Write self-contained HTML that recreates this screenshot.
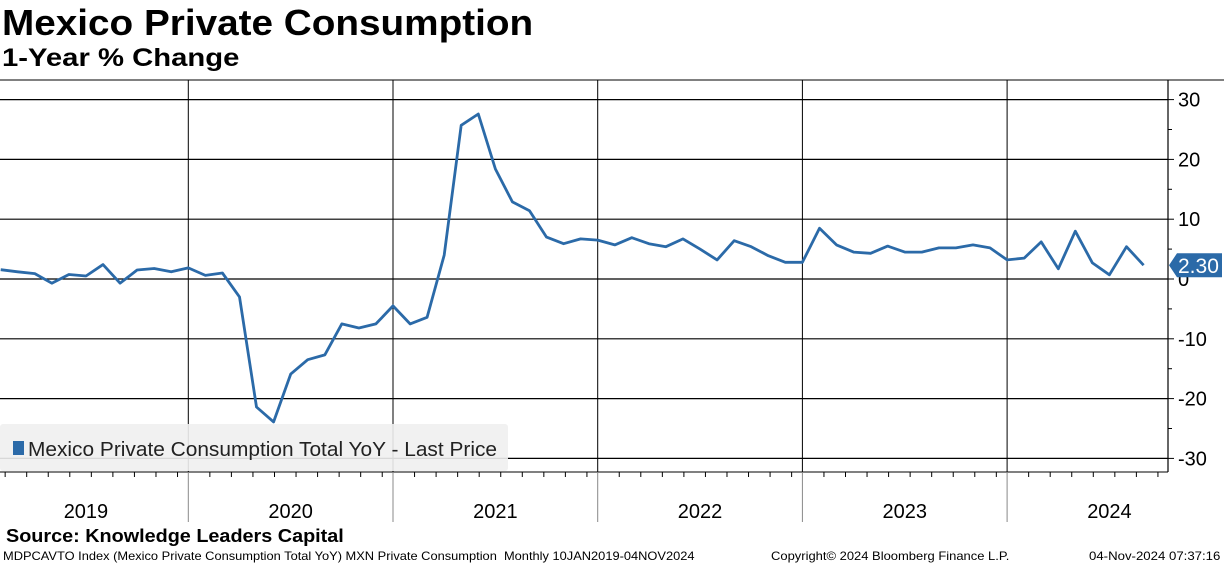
<!DOCTYPE html>
<html><head><meta charset="utf-8"><style>
body{margin:0;width:1224px;height:566px;background:#fff;font-family:"Liberation Sans",sans-serif;overflow:hidden;position:relative}
.t{position:absolute;white-space:nowrap}
</style></head><body>
<div class="t" style="left:2px;top:2px;font-size:36px;font-weight:bold;transform:scaleX(1.075);transform-origin:left">Mexico Private Consumption</div>
<div class="t" style="left:2px;top:44px;font-size:25px;font-weight:bold;transform:scaleX(1.17);transform-origin:left">1-Year % Change</div>
<svg id="c" width="1224" height="566" style="position:absolute;left:0;top:0"></svg>
<div class="t" style="left:6px;top:526px;font-size:18px;font-weight:bold;transform:scaleX(1.1);transform-origin:left">Source: Knowledge Leaders Capital</div>
<div class="t" style="left:3px;top:549px;font-size:12px;transform:scaleX(1.07);transform-origin:left">MDPCAVTO Index (Mexico Private Consumption Total YoY) MXN Private Consumption&nbsp; Monthly 10JAN2019-04NOV2024</div>
<div class="t" style="left:771px;top:549px;font-size:12px;transform:scaleX(1.08);transform-origin:left">Copyright© 2024 Bloomberg Finance L.P.</div>
<div class="t" style="left:1089px;top:549px;font-size:12px;transform:scaleX(1.1);transform-origin:left">04-Nov-2024 07:37:16</div>
<script>
const years=["2019","2020","2021","2022","2023","2024"];
const yTicks=[30,20,10,0,-10,-20,-30];
// monthly values starting Feb 2019
const values=[1.56,1.2,0.9,-0.7,0.75,0.5,2.4,-0.7,1.5,1.75,1.2,1.85,0.6,1.0,-3.0,-21.4,-23.9,-15.9,-13.5,-12.7,-7.5,-8.2,-7.5,-4.5,-7.5,-6.4,4.0,25.7,27.6,18.4,12.9,11.4,7.0,5.9,6.7,6.5,5.7,6.9,5.9,5.4,6.7,5.0,3.2,6.4,5.4,3.9,2.8,2.8,8.5,5.7,4.5,4.3,5.5,4.5,4.5,5.2,5.2,5.7,5.2,3.2,3.5,6.2,1.7,8.0,2.7,0.7,5.4,2.3];
const lastLabel="2.30";
const svg=document.getElementById('c');const NS="http://www.w3.org/2000/svg";
function mk(t,a){const e=document.createElementNS(NS,t);for(const k in a)e.setAttribute(k,a[k]);svg.appendChild(e);return e;}
const yr=204.7, x2020=188.3;
function xm(i){return x2020-yr+(i+1)*yr/12;}
function ys(v){return 279-v*5.98;}
const plotTop=80,plotBot=472,ax=1168;
yTicks.forEach(v=>{const l=mk('line',{x1:0,x2:ax,y1:ys(v),y2:ys(v),stroke:'#000','stroke-width':1.2});


const tk=mk('line',{x1:ax,x2:ax+6,y1:ys(v),y2:ys(v),stroke:'#000'});


const tx=mk('text',{x:ax+10,y:ys(v)+7,'font-size':20,'font-family':'Liberation Sans, sans-serif'});tx.textContent=v;


});
for(let v=-35;v<=35;v+=10){const y=ys(v);if(y<plotTop||y>plotBot)continue;const m=mk('line',{x1:ax,x2:ax+4,y1:y,y2:y,stroke:'#000'});

}
let f=mk('line',{x1:ax,x2:ax,y1:plotTop,y2:plotBot,stroke:'#000','stroke-width':1.2});


f=mk('line',{x1:0,x2:ax,y1:plotBot,y2:plotBot,stroke:'#000','stroke-width':1});


f=mk('line',{x1:0,x2:1224,y1:plotTop,y2:plotTop,stroke:'#000','stroke-width':1});


years.forEach((y,i)=>{const x=x2020+(i-1)*yr;
if(i>0){const g=mk('line',{x1:x,x2:x,y1:plotTop,y2:plotBot,stroke:'#000','stroke-width':1});


const g2=mk('line',{x1:x,x2:x,y1:plotBot,y2:522,stroke:'#888','stroke-width':1});

}
const t=mk('text',{x:x+yr/2,y:518,'font-size':20,'text-anchor':'middle','font-family':'Liberation Sans, sans-serif'});t.textContent=y;


for(let k=1;k<10;k++){const tx=x+k*yr/9.5;if(tx>ax-2||tx<0)continue;const m=mk('line',{x1:tx,x2:tx,y1:plotBot,y2:plotBot+5,stroke:'#000'});

}
});
const lg=mk('rect',{x:0,y:424,width:508,height:47,rx:3,fill:'#efefef','fill-opacity':0.9});


const pts=values.map((v,i)=>xm(i).toFixed(1)+','+ys(v).toFixed(1)).join(' ');
const pl=mk('polyline',{points:pts,fill:'none',stroke:'#2b6aa8','stroke-width':2.8,'stroke-linejoin':'round'});


const sw=mk('rect',{x:13,y:441,width:11,height:14,fill:'#2b6aa8'});


const lt=mk('text',{x:28,y:456,'font-size':20,fill:'#222','font-family':'Liberation Sans, sans-serif',textLength:469,lengthAdjust:'spacingAndGlyphs'});lt.textContent="Mexico Private Consumption Total YoY - Last Price";


const ly=ys(values[values.length-1]);
const cb=mk('path',{d:`M${ax+1} ${ly} L${ax+9} ${ly-12} H1222 V${ly+12} H${ax+9} Z`,fill:'#2b6aa8'});


const ct=mk('text',{x:1178,y:ly+8,'font-size':21,fill:'#fff','font-family':'Liberation Sans, sans-serif'});ct.textContent=lastLabel;


</script>
</body></html>
